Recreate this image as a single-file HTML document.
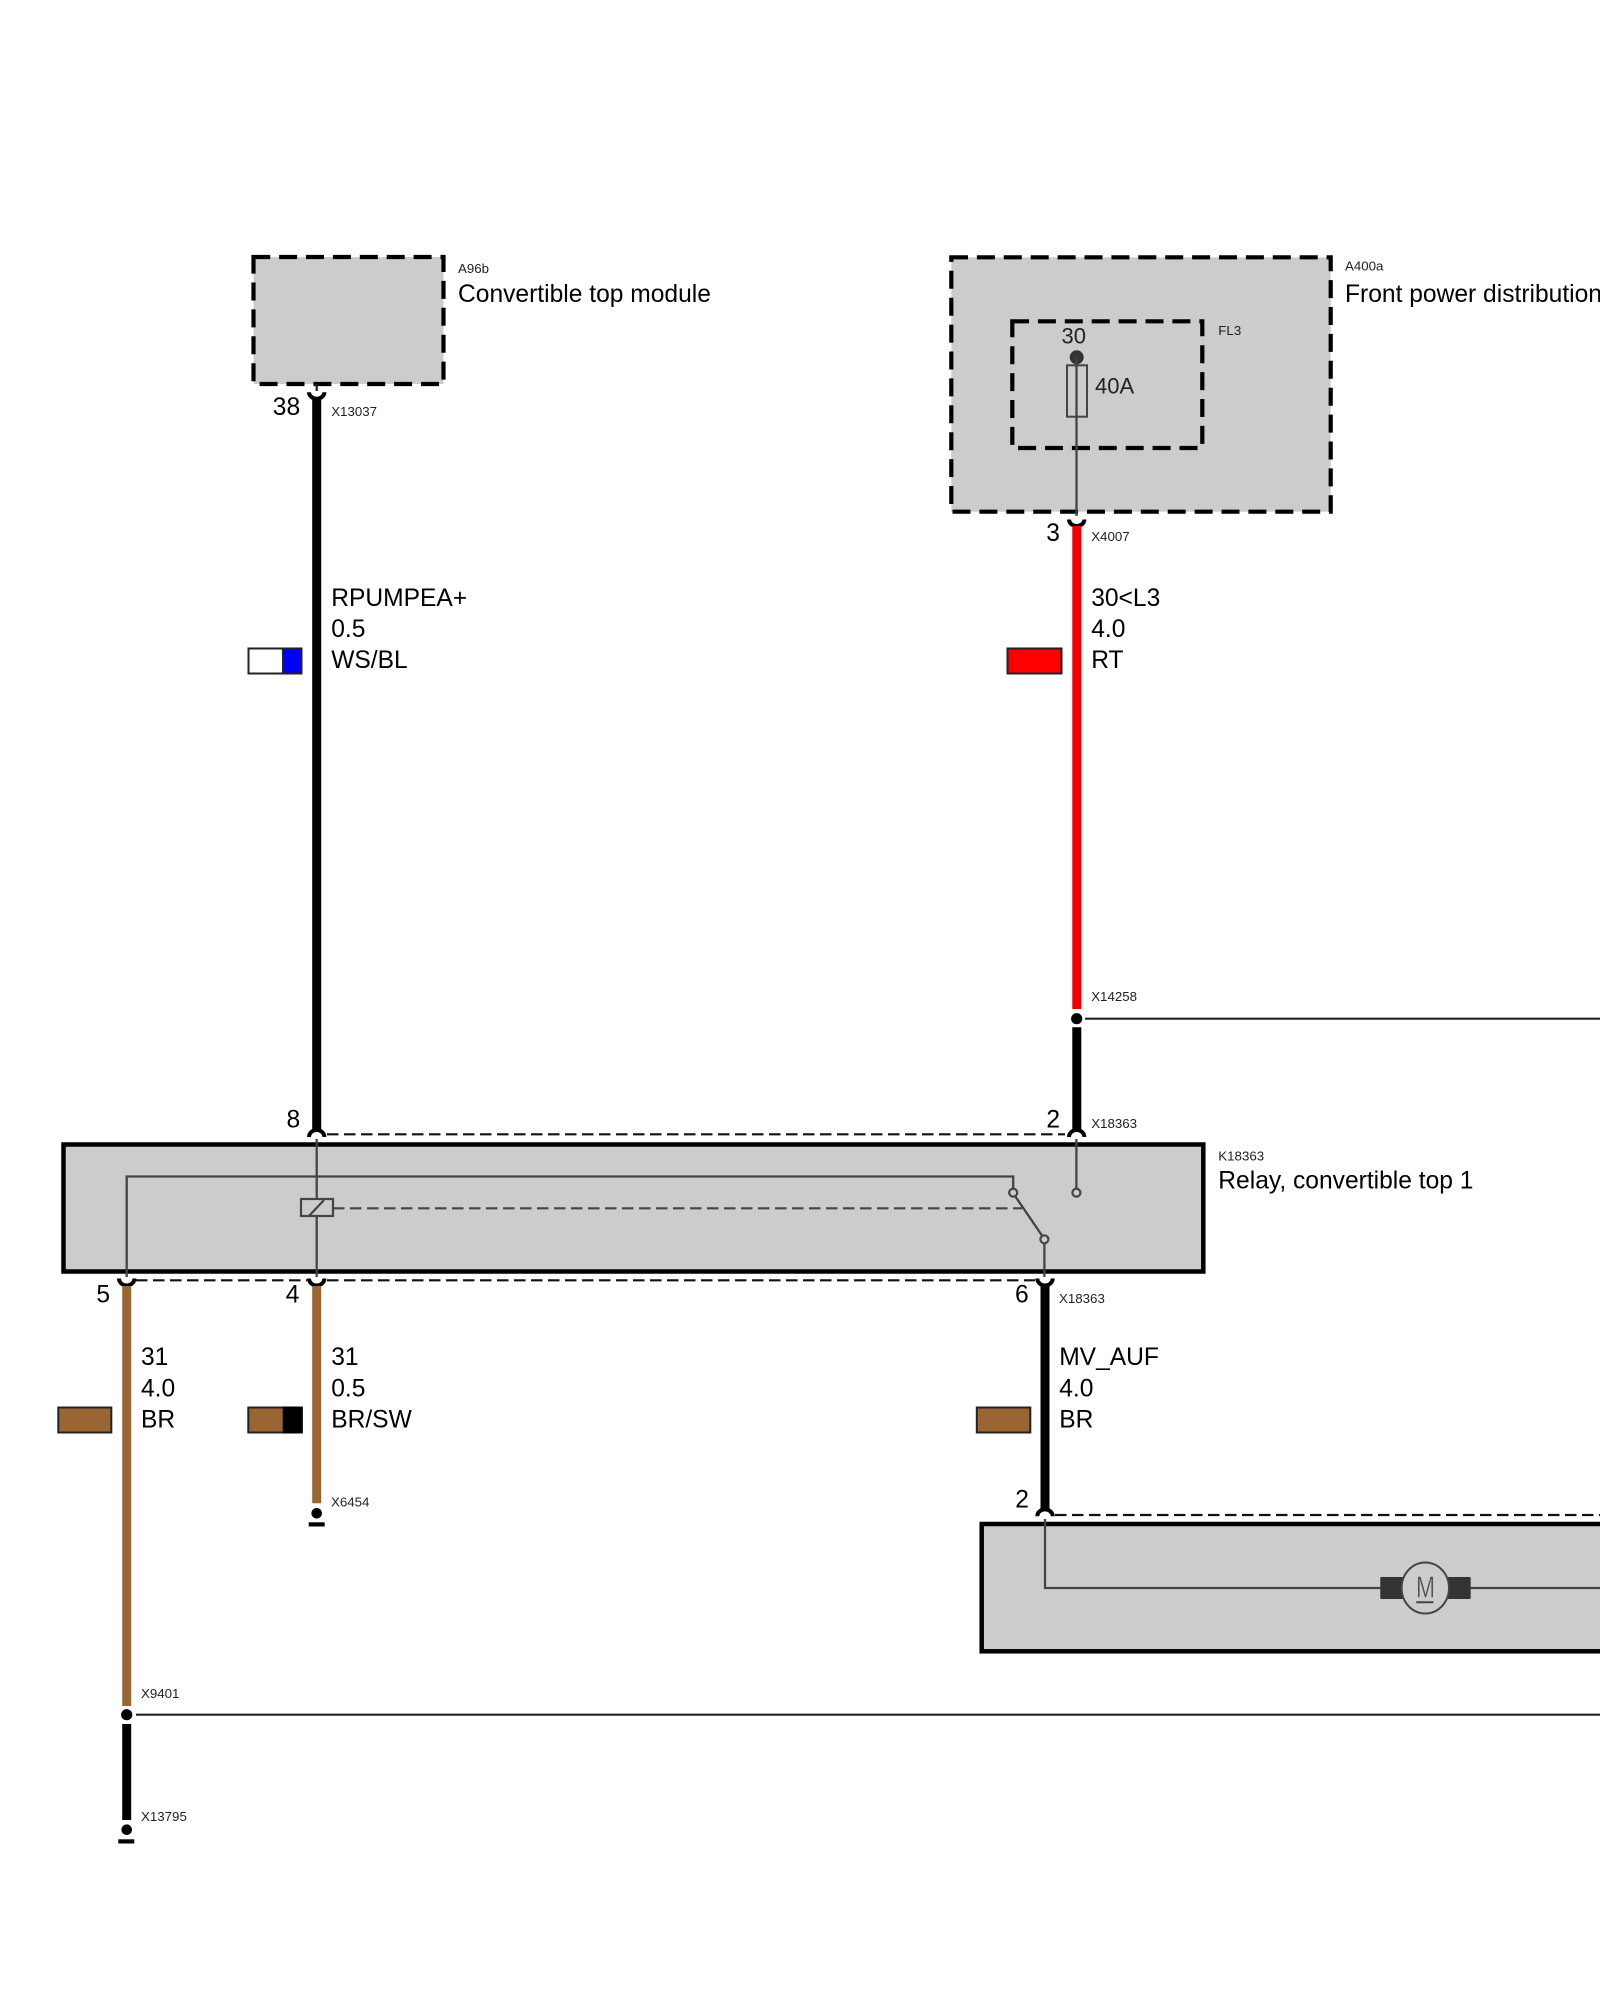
<!DOCTYPE html>
<html><head><meta charset="utf-8"><style>
html,body{margin:0;padding:0;background:#fff;width:1600px;height:2000px;overflow:hidden}
svg{display:block}
text{font-family:"Liberation Sans",Arial,sans-serif;fill:#000}
.l{font-size:24.6px}
.i{font-size:22px;fill:#222}
.s{font-size:13.3px;fill:#222}
.t{stroke:#444;stroke-width:2.3;fill:none}
.a{stroke:#000;stroke-width:4;fill:none}
.w{stroke-width:9;fill:none}
.d{stroke:#111;stroke-width:2.2;stroke-dasharray:11.5 5.5;fill:none}
.b{fill:#ccc;stroke:#000;stroke-width:4.2;stroke-dasharray:18 8.9;stroke-dashoffset:1.3}
.r{fill:#ccc;stroke:#000;stroke-width:4.5}
.sw{stroke:#222;stroke-width:2}
</style></head><body>
<svg width="1600" height="2000" viewBox="0 0 1600 2000" xmlns="http://www.w3.org/2000/svg">
<rect width="1600" height="2000" fill="#fff"/>

<!-- A96b -->
<rect class="b" x="253.5" y="257" width="190" height="127"/>
<text class="s" x="458" y="273">A96b</text>
<text class="l" x="458" y="302">Convertible top module</text>
<line x1="316.7" y1="384" x2="316.7" y2="391" stroke="#222" stroke-width="2.3"/>
<line class="w" x1="316.7" y1="398" x2="316.7" y2="1130" stroke="#000"/>
<path class="a" d="M309 392.2 A7.7 6.5 0 0 0 324.4 392.2"/>
<text class="l" x="272.8" y="415.2">38</text>
<text class="s" x="331.2" y="416">X13037</text>
<text class="l" x="331.2" y="605.8">RPUMPEA+</text>
<text class="l" x="331.2" y="637">0.5</text>
<text class="l" x="331.2" y="667.8">WS/BL</text>
<rect x="248.5" y="648.5" width="53" height="25" fill="#fff" class="sw"/>
<rect x="283" y="648.5" width="18.5" height="25" fill="#00f" class="sw"/>

<!-- A400a -->
<rect class="b" x="951.3" y="257.3" width="379.4" height="254.4"/>
<rect class="b" x="1012.3" y="321.3" width="190" height="126.7"/>
<text class="s" x="1345" y="270.3">A400a</text>
<text class="l" x="1345" y="302">Front power distribution</text>
<text class="s" x="1218.3" y="335">FL3</text>
<text class="i" x="1061.5" y="343.7">30</text>
<text class="i" x="1095" y="393.3">40A</text>
<circle cx="1076.7" cy="357.3" r="7" fill="#333"/>
<rect x="1067" y="365.3" width="20" height="51.4" fill="none" stroke="#444" stroke-width="2"/>
<line class="t" x1="1076.5" y1="357" x2="1076.5" y2="516"/>
<path class="a" d="M1069 519.5 A7.7 6.5 0 0 0 1084.4 519.5"/>
<line class="w" x1="1076.8" y1="526" x2="1076.8" y2="1009" stroke="#f20000"/>
<text class="l" x="1046.2" y="541.2">3</text>
<text class="s" x="1091.2" y="541.2">X4007</text>
<text class="l" x="1091.2" y="605.8">30&lt;L3</text>
<text class="l" x="1091.2" y="637">4.0</text>
<text class="l" x="1091.2" y="667.8">RT</text>
<rect x="1007.5" y="648.5" width="54" height="25" fill="#f00" class="sw"/>

<!-- splice X14258 -->
<text class="s" x="1091.2" y="1000.9">X14258</text>
<circle cx="1076.7" cy="1018.7" r="5.6" fill="#000"/>
<line x1="1085" y1="1018.7" x2="1600" y2="1018.7" stroke="#222" stroke-width="2.2"/>
<line class="w" x1="1076.8" y1="1027.3" x2="1076.8" y2="1130" stroke="#000"/>

<!-- Relay -->
<line class="d" x1="327" y1="1134.3" x2="1065" y2="1134.3"/>
<line class="d" x1="136" y1="1280.3" x2="307" y2="1280.3"/>
<line class="d" x1="327" y1="1280.3" x2="1035" y2="1280.3"/>
<rect class="r" x="63.5" y="1144.5" width="1139.8" height="127"/>
<path class="a" d="M309 1137 A7.7 7 0 0 1 324.4 1137"/>
<path class="a" d="M1069 1137 A7.7 7 0 0 1 1084.4 1137"/>
<line class="t" x1="316.7" y1="1139" x2="316.7" y2="1199"/>
<rect x="301" y="1199" width="32" height="17" fill="none" stroke="#444" stroke-width="2.2"/>
<line class="t" x1="309" y1="1216" x2="324" y2="1200"/>
<line class="t" x1="316.7" y1="1216" x2="316.7" y2="1277"/>
<path class="t" d="M126.7 1277 V1176.5 H1013.2 V1188.5"/>
<line x1="333" y1="1208.3" x2="1022" y2="1208.3" stroke="#444" stroke-width="2.2" stroke-dasharray="11.5 5.5"/>
<line class="t" x1="1076.4" y1="1139" x2="1076.4" y2="1188.5"/>
<line class="t" x1="1015" y1="1196" x2="1042" y2="1235.5"/>
<line class="t" x1="1044.4" y1="1243.5" x2="1044.4" y2="1277"/>
<circle cx="1013.2" cy="1192.7" r="4" fill="#ccc" stroke="#444" stroke-width="2.2"/>
<circle cx="1076.4" cy="1192.7" r="4" fill="#ccc" stroke="#444" stroke-width="2.2"/>
<circle cx="1044.4" cy="1239.3" r="4" fill="#ccc" stroke="#444" stroke-width="2.2"/>
<path class="a" d="M119 1278.5 A7.7 7 0 0 0 134.4 1278.5"/>
<path class="a" d="M309 1278.5 A7.7 7 0 0 0 324.4 1278.5"/>
<path class="a" d="M1037.3 1278.5 A7.7 7 0 0 0 1052.7 1278.5"/>
<text class="l" x="286.5" y="1127.5">8</text>
<text class="l" x="1046.4" y="1127.5">2</text>
<text class="s" x="1091.2" y="1128">X18363</text>
<text class="s" x="1218.3" y="1160.3">K18363</text>
<text class="l" x="1218.3" y="1188.3">Relay, convertible top 1</text>
<text class="l" x="96.4" y="1302.7">5</text>
<text class="l" x="285.7" y="1302.7">4</text>
<text class="l" x="1015" y="1302.3">6</text>
<text class="s" x="1059" y="1303">X18363</text>

<!-- wire 5 -->
<line class="w" x1="126.7" y1="1286" x2="126.7" y2="1706" stroke="#996633"/>
<text class="l" x="141" y="1365">31</text>
<text class="l" x="141" y="1396.7">4.0</text>
<text class="l" x="141" y="1427.7">BR</text>
<rect x="58.3" y="1407.5" width="53" height="25" fill="#996633" class="sw"/>
<text class="s" x="141" y="1698">X9401</text>
<circle cx="126.7" cy="1714.7" r="5.6" fill="#000"/>
<line x1="136" y1="1714.7" x2="1600" y2="1714.7" stroke="#222" stroke-width="2.2"/>
<line class="w" x1="126.7" y1="1724" x2="126.7" y2="1820" stroke="#000"/>
<text class="s" x="141" y="1821">X13795</text>
<circle cx="126.7" cy="1829.7" r="5.3" fill="#000"/>
<rect x="118.3" y="1839.3" width="16" height="4.2" fill="#000"/>

<!-- wire 4 -->
<line class="w" x1="316.7" y1="1286" x2="316.7" y2="1503.3" stroke="#996633"/>
<text class="l" x="331.2" y="1365">31</text>
<text class="l" x="331.2" y="1396.7">0.5</text>
<text class="l" x="331.2" y="1427.7">BR/SW</text>
<rect x="248.3" y="1407.5" width="53.5" height="25" fill="#996633" class="sw"/>
<rect x="282.7" y="1406.5" width="20" height="27" fill="#000"/>
<text class="s" x="331" y="1506.3">X6454</text>
<circle cx="316.7" cy="1513.3" r="5.3" fill="#000"/>
<rect x="308.7" y="1522.3" width="16" height="4.2" fill="#000"/>

<!-- wire 6 -->
<line class="w" x1="1045" y1="1286" x2="1045" y2="1510" stroke="#000"/>
<text class="l" x="1059.2" y="1365">MV_AUF</text>
<text class="l" x="1059.2" y="1396.7">4.0</text>
<text class="l" x="1059.2" y="1427.7">BR</text>
<rect x="976.8" y="1407.5" width="53.5" height="25" fill="#996633" class="sw"/>

<!-- Motor box -->
<line class="d" x1="1055" y1="1515" x2="1600" y2="1515"/>
<rect class="r" x="981.7" y="1524" width="700" height="127.3"/>
<path class="a" d="M1037.3 1516.3 A7.7 7 0 0 1 1052.7 1516.3"/>
<text class="l" x="1015.2" y="1507.3">2</text>
<path class="t" d="M1045 1519 V1588 H1381"/>
<rect x="1380.3" y="1577" width="90.4" height="22" rx="1" fill="#333"/>
<line class="t" x1="1470" y1="1588" x2="1600" y2="1588"/>
<ellipse cx="1425.3" cy="1588" rx="23.7" ry="25.5" fill="#ccc" stroke="#444" stroke-width="2"/>
<text x="1416" y="1597.3" font-size="31" textLength="19" lengthAdjust="spacingAndGlyphs" style="fill:#444;stroke:#ccc;stroke-width:.6">M</text>
<line x1="1416.3" y1="1602.3" x2="1433.3" y2="1602.3" stroke="#444" stroke-width="2"/>
</svg>
</body></html>
